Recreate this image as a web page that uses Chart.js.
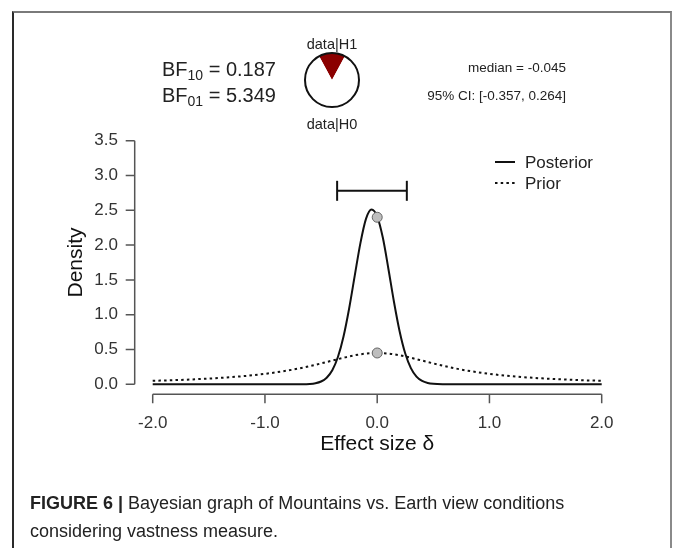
<!DOCTYPE html>
<html>
<head>
<meta charset="utf-8">
<script src="https://cdn.jsdelivr.net/npm/chart.js@4.4.0/dist/chart.umd.min.js"></script>
<style>
  html, body { margin: 0; padding: 0; background: #fff; }
  body { width: 673px; height: 548px; position: relative; overflow: hidden; font-family: "Liberation Sans", Arial, sans-serif; color: #222; }
  #frame { position: absolute; left: 12px; top: 11px; width: 660px; height: 560px; box-sizing: border-box;
           border-top: 2px solid #7a7a7a; border-left: 2px solid #2a2a2a; border-right: 2px solid #8a8a8a; }
  #main { position: absolute; left: 0; top: 0; }
  #pie { position: absolute; left: 302px; top: 50px; }
  .txt { position: absolute; white-space: nowrap; }
  .bf { left: 162px; font-size: 20px; line-height: 20px; color: #222; }
  .bf span { font-size: 14px; vertical-align: -4px; }
  .stat { right: 107px; font-size: 13.5px; line-height: 16px; text-align: right; color: #222; }
  .hyp { left: 292px; width: 80px; text-align: center; font-size: 14.5px; line-height: 16px; color: #222; }
  #caption { left: 30px; top: 489px; font-size: 18px; line-height: 28px; color: #222; }
</style>
</head>
<body>
<div id="frame"></div>
<canvas id="main" width="673" height="548"></canvas>
<canvas id="pie" width="60" height="60"></canvas>

<div class="txt bf" style="top:59px">BF<span>10</span> = 0.187</div>
<div class="txt bf" style="top:85px">BF<span>01</span> = 5.349</div>
<div class="txt stat" style="top:60px">median = -0.045</div>
<div class="txt stat" style="top:88px">95% CI: [-0.357, 0.264]</div>
<div class="txt hyp" style="top:36px">data|H1</div>
<div class="txt hyp" style="top:116px">data|H0</div>
<div class="txt" id="caption"><b>FIGURE 6 |</b> Bayesian graph of Mountains vs. Earth view conditions<br>considering vastness measure.</div>

<script>
// Axis ticks
const xTicks = [-2, -1, 0, 1, 2];
const xTickLabels = ['-2.0', '-1.0', '0.0', '1.0', '2.0'];
const yTicks = [0, 0.5, 1, 1.5, 2, 2.5, 3, 3.5];
const yTickLabels = ['0.0', '0.5', '1.0', '1.5', '2.0', '2.5', '3.0', '3.5'];

// Posterior density
const postX = [-2.0, -1.0, -0.8, -0.7, -0.6, -0.55, -0.5, -0.45, -0.4, -0.35, -0.3, -0.25, -0.2, -0.15, -0.1, -0.05,
               0.0, 0.05, 0.1, 0.15, 0.2, 0.25, 0.3, 0.35, 0.4, 0.45, 0.5, 0.6, 0.7, 0.8, 1.0, 2.0];
const postY = [0, 0, 0, 0.001, 0.005, 0.015, 0.040, 0.095, 0.202, 0.392, 0.687, 1.089, 1.561, 2.025, 2.377, 2.510,
               2.410, 2.108, 1.657, 1.179, 0.759, 0.442, 0.233, 0.111, 0.048, 0.019, 0.007, 0.001, 0, 0, 0, 0];

// Prior density (dotted)
const priorX = [-2.0, -1.8, -1.6, -1.4, -1.2, -1.0, -0.9, -0.8, -0.7, -0.6, -0.5, -0.4, -0.3, -0.2, -0.1, 0.0,
                0.1, 0.2, 0.3, 0.4, 0.5, 0.6, 0.7, 0.8, 0.9, 1.0, 1.2, 1.4, 1.6, 1.8, 2.0];
const priorY = [0.050, 0.060, 0.074, 0.092, 0.116, 0.150, 0.172, 0.197, 0.227, 0.262, 0.300, 0.341, 0.381, 0.417, 0.441, 0.450,
                0.441, 0.417, 0.381, 0.341, 0.300, 0.262, 0.227, 0.197, 0.172, 0.150, 0.116, 0.092, 0.074, 0.060, 0.050];

// Savage-Dickey points at delta = 0
const pointX = [0, 0];
const pointY = [2.40, 0.45];

// 95% credible interval bar
const ciX = [-0.357, 0.264];
const ciY = [2.78, 2.78];

// Pie: data|H1 vs data|H0
const pieLabels = ['data|H1', 'data|H0'];
const pieValues = [0.187, 1];

const seriesLabels = ['Posterior', 'Prior'];
const ink = '#111';

const toXY = (xs, ys) => xs.map((x, i) => ({ x: x, y: ys[i] }));

const rAxes = {
  id: 'rAxes',
  afterDraw(chart) {
    const { ctx, chartArea: ca, scales: { x, y } } = chart;
    ctx.save();
    ctx.strokeStyle = '#555';
    ctx.lineWidth = 1.5;
    ctx.beginPath();
    // x axis, R style, set below the data
    const axY = ca.bottom + 10;
    ctx.moveTo(x.getPixelForValue(xTicks[0]), axY);
    ctx.lineTo(x.getPixelForValue(xTicks[xTicks.length - 1]), axY);
    xTicks.forEach(v => {
      const px = x.getPixelForValue(v);
      ctx.moveTo(px, axY);
      ctx.lineTo(px, axY + 9);
    });
    // y axis
    const axX = ca.left - 18;
    ctx.moveTo(axX, y.getPixelForValue(yTicks[0]));
    ctx.lineTo(axX, y.getPixelForValue(yTicks[yTicks.length - 1]));
    yTicks.forEach(v => {
      const py = y.getPixelForValue(v);
      ctx.moveTo(axX, py);
      ctx.lineTo(axX - 9, py);
    });
    ctx.stroke();

    // legend
    ctx.strokeStyle = ink;
    ctx.lineWidth = 2;
    ctx.beginPath();
    ctx.moveTo(495, 162); ctx.lineTo(515, 162);
    ctx.stroke();
    ctx.setLineDash([2.5, 3.2]);
    ctx.beginPath();
    ctx.moveTo(495, 183); ctx.lineTo(516, 183);
    ctx.stroke();
    ctx.setLineDash([]);
    ctx.fillStyle = '#222';
    ctx.font = '17px "Liberation Sans", Arial, sans-serif';
    ctx.textBaseline = 'middle';
    ctx.fillText(seriesLabels[0], 525, 163);
    ctx.fillText(seriesLabels[1], 525, 184);
    ctx.restore();
  }
};

new Chart(document.getElementById('main').getContext('2d'), {
  type: 'line',
  data: {
    datasets: [
      {
        label: 'points',
        data: toXY(pointX, pointY),
        showLine: false,
        pointRadius: 5,
        pointBackgroundColor: 'rgb(190,190,190)',
        pointBorderColor: 'rgb(100,100,100)',
        pointBorderWidth: 1,
        order: 0,
        clip: false
      },
      {
        label: seriesLabels[0],
        data: toXY(postX, postY),
        borderColor: ink,
        borderWidth: 2,
        pointRadius: 0,
        cubicInterpolationMode: 'monotone',
        order: 1,
        clip: false
      },
      {
        label: seriesLabels[1],
        data: toXY(priorX, priorY),
        borderColor: ink,
        borderWidth: 2,
        borderDash: [2.5, 3.2],
        pointRadius: 0,
        cubicInterpolationMode: 'monotone',
        order: 2,
        clip: false
      },
      {
        label: 'CI',
        data: toXY(ciX, ciY),
        borderColor: ink,
        borderWidth: 2,
        pointStyle: 'line',
        pointRotation: 90,
        pointRadius: 10,
        pointBorderWidth: 2,
        pointBorderColor: ink,
        order: 3,
        clip: false
      }
    ]
  },
  options: {
    responsive: false,
    animation: false,
    layout: { padding: { left: 0, top: 140.7, right: 71.3, bottom: 90.7 } },
    plugins: { legend: { display: false }, tooltip: { enabled: false } },
    scales: {
      x: {
        type: 'linear',
        min: -2,
        max: 2,
        grid: { display: false },
        border: { display: false },
        afterBuildTicks: s => { s.ticks = xTicks.map(v => ({ value: v })); },
        afterFit: s => { s.height = 73; },
        ticks: {
          padding: 20.5,
          color: '#333',
          font: { size: 17, family: '"Liberation Sans", Arial, sans-serif' },
          callback: (v, i) => xTickLabels[i]
        },
        title: {
          display: true,
          text: 'Effect size δ',
          color: ink,
          padding: 0,
          font: { size: 21, family: '"Liberation Sans", Arial, sans-serif' }
        }
      },
      y: {
        type: 'linear',
        min: 0,
        max: 3.5,
        grid: { display: false },
        border: { display: false },
        afterBuildTicks: s => { s.ticks = yTicks.map(v => ({ value: v })); },
        afterFit: s => { s.width = 152.7; },
        ticks: {
          padding: 26.7,
          color: '#333',
          font: { size: 17, family: '"Liberation Sans", Arial, sans-serif' },
          callback: (v, i) => yTickLabels[i]
        },
        title: {
          display: true,
          text: 'Density',
          color: ink,
          padding: { top: 64, bottom: 0 },
          font: { size: 21, family: '"Liberation Sans", Arial, sans-serif' }
        }
      }
    }
  },
  plugins: [rAxes]
});

// pie of data|H1 vs data|H0
const h1Share = pieValues[0] / (pieValues[0] + pieValues[1]);
const pieOutline = {
  id: 'pieOutline',
  afterDraw(chart) {
    const arc = chart.getDatasetMeta(0).data[0];
    const ctx = chart.ctx;
    ctx.save();
    ctx.strokeStyle = ink;
    ctx.lineWidth = 2;
    ctx.beginPath();
    ctx.arc(arc.x, arc.y, arc.outerRadius, 0, Math.PI * 2);
    ctx.stroke();
    ctx.restore();
  }
};

new Chart(document.getElementById('pie').getContext('2d'), {
  type: 'pie',
  data: {
    labels: pieLabels,
    datasets: [{
      data: pieValues,
      backgroundColor: ['rgb(139,0,0)', '#ffffff'],
      borderWidth: 0
    }]
  },
  options: {
    responsive: false,
    animation: false,
    rotation: -h1Share * 180,
    layout: { padding: 3 },
    plugins: { legend: { display: false }, tooltip: { enabled: false } }
  },
  plugins: [pieOutline]
});
</script>
</body>
</html>
